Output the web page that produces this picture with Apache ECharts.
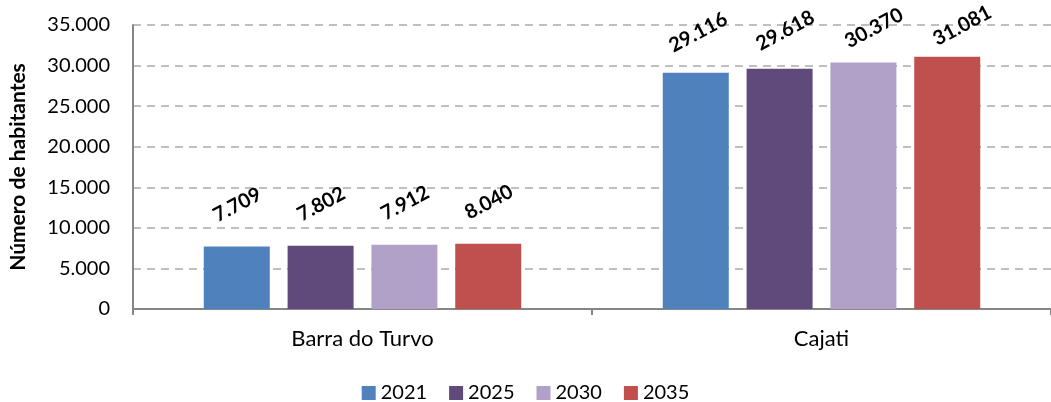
<!DOCTYPE html>
<html>
<head>
<meta charset="utf-8">
<script src="https://cdn.jsdelivr.net/npm/echarts@6/dist/echarts.min.js"></script>
<style>
  html, body { margin: 0; padding: 0; background: #ffffff; }
  #chart { width: 1051px; height: 402px; }
</style>
</head>
<body>
<div id="chart"></div>
<script>
// Projected population per municipality
const categories = ['Barra do Turvo', 'Cajati'];
const years = ['2021', '2025', '2030', '2035'];
const values2021 = [7709, 29116];
const values2025 = [7802, 29618];
const values2030 = [7912, 30370];
const values2035 = [8040, 31081];
const colors = ['#4f81bd', '#604a7b', '#b1a0c7', '#c0504d'];

const seriesValues = [values2021, values2025, values2030, values2035];
const FONT = 'Lato, "Liberation Sans", sans-serif';

// Thousands separator with a dot
function fmt(v) {
  return String(v).replace(/\B(?=(\d{3})+(?!\d))/g, '.');
}

const chart = echarts.init(document.getElementById('chart'), null, { renderer: 'canvas' });

const LABEL_DISTANCE = 30;

const baseSeries = years.map((y, i) => ({
  name: y,
  type: 'bar',
  data: seriesValues[i],
  barWidth: 66,
  barGap: '27%',
  itemStyle: { color: colors[i] },
  label: {
    show: true,
    position: 'top',
    distance: LABEL_DISTANCE,
    rotate: 28,
    fontFamily: FONT,
    fontSize: 20,
    fontWeight: 'bold',
    color: '#000000',
    formatter: p => fmt(p.value)
  }
}));

chart.setOption({
  animation: false,
  textStyle: { fontFamily: FONT },
  grid: { left: 131, top: 25, width: 924, height: 284, containLabel: false },
  legend: {
    top: 378,
    left: 'center',
    itemWidth: 14,
    itemHeight: 14,
    itemGap: 22,
    icon: 'rect',
    textStyle: { fontFamily: FONT, fontSize: 20, color: '#000000', padding: [0, 0, 0, 0] },
    data: years
  },
  xAxis: {
    type: 'category',
    data: categories,
    axisLine: { lineStyle: { color: '#868686', width: 2 } },
    axisTick: { show: true, length: 6, lineStyle: { color: '#868686', width: 2 } },
    axisLabel: { fontFamily: FONT, fontSize: 22, color: '#000000', margin: 19 }
  },
  yAxis: {
    type: 'value',
    min: 0,
    max: 35000,
    interval: 5000,
    name: 'Número de habitantes',
    nameLocation: 'middle',
    nameGap: 104,
    nameRotate: 90,
    nameTextStyle: { fontFamily: FONT, fontSize: 21, fontWeight: 'bold', color: '#000000' },
    axisLine: { show: true, lineStyle: { color: '#868686', width: 2 } },
    axisTick: { show: false },
    axisLabel: { fontFamily: FONT, fontSize: 20, color: '#000000', margin: 23, formatter: v => fmt(v) },
    splitLine: { lineStyle: { color: '#bfbfbf', type: [8, 6], width: 2 } }
  },
  series: baseSeries
});

// Keep value labels from running off the top of the chart: labels whose
// natural centre would sit above y=36 are pulled down toward the bar and
// nudged to the right.
const adjustedSeries = seriesValues.map((vals) => ({
  data: vals.map((v) => {
    const barTop = chart.convertToPixel({ yAxisIndex: 0 }, v);
    const naturalCenter = barTop - 39;
    const dy = Math.max(0, 36 - naturalCenter);
    return {
      value: v,
      label: { distance: LABEL_DISTANCE - dy, offset: [6 + dy * 0.9, 0] }
    };
  })
}));
chart.setOption({ series: adjustedSeries });
</script>
</body>
</html>
